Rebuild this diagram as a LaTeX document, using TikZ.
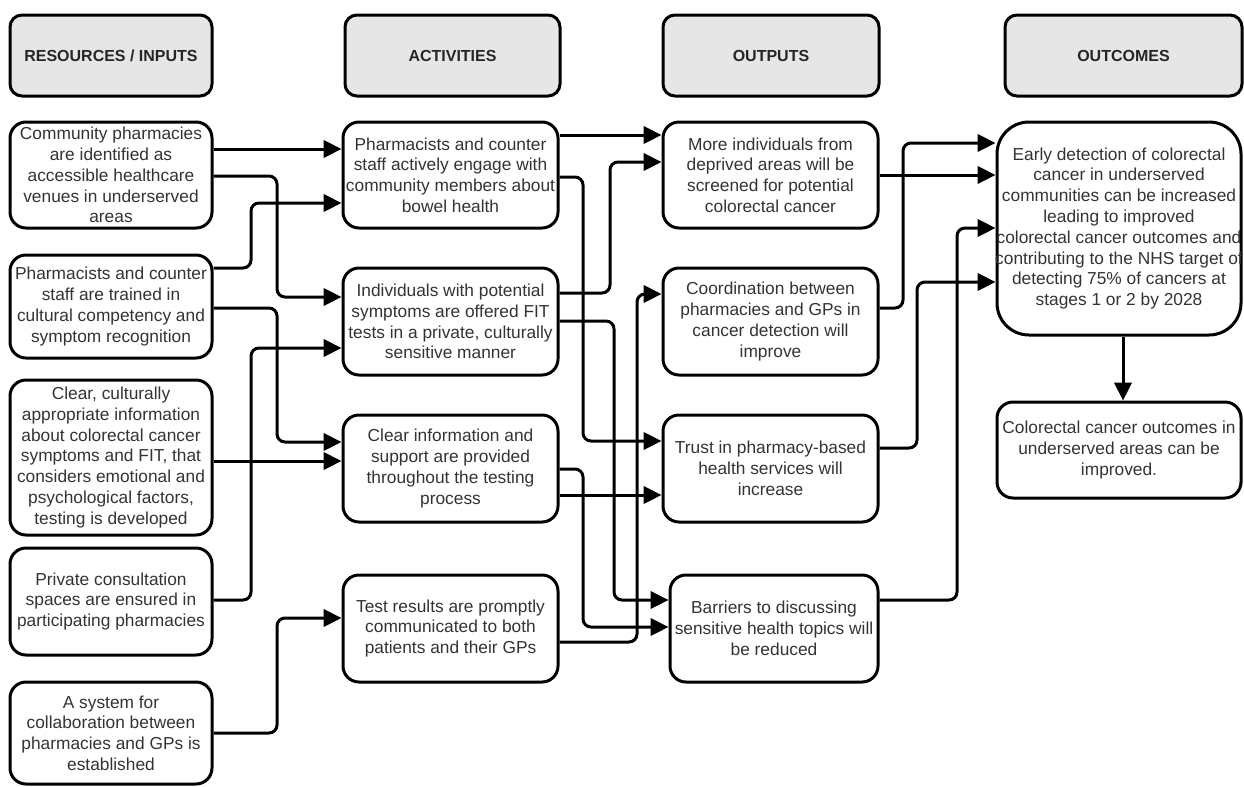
\documentclass[tikz,border=0pt]{standalone}
\usepackage{fontspec}
\setmainfont{Liberation Sans}
\usetikzlibrary{arrows.meta}
\definecolor{txtgray}{HTML}{333333}
\definecolor{headfill}{HTML}{E6E6E6}

\tikzset{
  box/.style={draw, line width=2.25pt, rounded corners=12pt, align=center, inner sep=2pt,
    text=txtgray, font=\fontsize{13pt}{15.6pt}\selectfont},
  head/.style={box, fill=headfill, minimum height=60.75pt, rounded corners=9pt,
    text=black!85, font=\fontsize{12pt}{14pt}\selectfont\bfseries},
  flow/.style={line width=2.25pt, rounded corners=6pt, -{Triangle[length=13.5pt,width=13pt]}},
}

\begin{document}
\begin{tikzpicture}[x=0.75pt,y=-0.75pt]
\useasboundingbox (0,0) rectangle (1244,786);

% column heads
\node[head, minimum width=151.5pt] (h1) at (111,55.5) {RESOURCES / INPUTS};
\node[head, minimum width=161.25pt] (h2) at (452.5,55.5) {ACTIVITIES};
\node[head, minimum width=162pt] (h3) at (771,55.5) {OUTPUTS};
\node[head, minimum width=177.75pt] (h4) at (1123.5,55.5) {OUTCOMES};

% resources / inputs
\node[box, minimum width=151.5pt, minimum height=79.5pt] (in1) at (111,175)
  {Community pharmacies\\are identified as\\accessible healthcare\\venues in underserved\\areas};
\node[box, minimum width=151.5pt, minimum height=77.25pt] (in2) at (111,306.5)
  {Pharmacists and counter\\staff are trained in\\cultural competency and\\symptom recognition};
\node[box, minimum width=151.5pt, minimum height=116.25pt] (in3) at (111,457.5)
  {Clear, culturally\\appropriate information\\about colorectal cancer\\symptoms and FIT, that\\considers emotional and\\psychological factors,\\testing is developed};
\node[box, minimum width=151.5pt, minimum height=80.25pt] (in4) at (111,601.5)
  {Private consultation\\spaces are ensured in\\participating pharmacies};
\node[box, minimum width=151.5pt, minimum height=76.5pt] (in5) at (111,733)
  {A system for\\collaboration between\\pharmacies and GPs is\\established};

% activities
\node[box, minimum width=161.25pt, minimum height=79.5pt] (act1) at (450.5,175)
  {Pharmacists and counter\\staff actively engage with\\community members about\\bowel health};
\node[box, minimum width=161.25pt, minimum height=80.25pt] (act2) at (450.5,321.5)
  {Individuals with potential\\symptoms are offered FIT\\tests in a private, culturally\\sensitive manner};
\node[box, minimum width=161.25pt, minimum height=80.25pt] (act3) at (450.5,468.5)
  {Clear information and\\support are provided\\throughout the testing\\process};
\node[box, minimum width=161.25pt, minimum height=80.25pt] (act4) at (450.5,628.5)
  {Test results are promptly\\communicated to both\\patients and their GPs};

% outputs
\node[box, minimum width=161.25pt, minimum height=79.5pt] (out1) at (770.5,175)
  {More individuals from\\deprived areas will be\\screened for potential\\colorectal cancer};
\node[box, minimum width=161.25pt, minimum height=80.25pt] (out2) at (770.5,321.5)
  {Coordination between\\pharmacies and GPs in\\cancer detection will\\improve};
\node[box, minimum width=161.25pt, minimum height=80.25pt] (out3) at (770.5,468.5)
  {Trust in pharmacy-based\\health services will\\increase};
\node[box, minimum width=156pt, minimum height=80.25pt] (out4) at (774,628.5)
  {Barriers to discussing\\sensitive health topics will\\be reduced};

% outcomes
\node[box, rounded corners=24pt, minimum width=183pt, minimum height=159.75pt] (oc1) at (1119,228.5) {};
\node[align=center, text=txtgray, font=\fontsize{13pt}{15.6pt}\selectfont] (oc1txt) at (oc1)
  {Early detection of colorectal\\cancer in underserved\\communities can be increased\\leading to improved\\colorectal cancer outcomes and\\contributing to the NHS target of\\detecting 75\% of cancers at\\stages 1 or 2 by 2028};
\node[box, minimum width=183pt, minimum height=72pt] (oc2) at (1119,450)
  {Colorectal cancer outcomes in\\underserved areas can be\\improved.};

% inputs -> activities
\draw[flow] (in1.east |- 0,149) -- (act1.west |- 0,149);
\draw[flow] (in1.east |- 0,176) -- (277,176) -- (277,297) -- (act2.west |- 0,297);
\draw[flow] (in2.east |- 0,268) -- (251,268) -- (251,203) -- (act1.west |- 0,203);
\draw[flow] (in2.east |- 0,308) -- (277,308) -- (277,442) -- (act3.west |- 0,442);
\draw[flow] (in3.east |- 0,461) -- (act3.west |- 0,461);
\draw[flow] (in4.east |- 0,600) -- (251,600) -- (251,348) -- (act2.west |- 0,348);
\draw[flow] (in5.east |- 0,733) -- (277,733) -- (277,618) -- (act4.west |- 0,618);

% activities -> outputs
\draw[flow] (act1.east |- 0,135) -- (out1.west |- 0,135);
\draw[flow] (act1.east |- 0,177) -- (583,177) -- (583,441) -- (out3.west |- 0,441);
\draw[flow] (act2.east |- 0,293) -- (610,293) -- (610,162) -- (out1.west |- 0,162);
\draw[flow] (act2.east |- 0,321) -- (614,321) -- (614,600) -- (out4.west |- 0,600);
\draw[flow] (act3.east |- 0,469) -- (583,469) -- (583,627) -- (out4.west |- 0,627);
\draw[flow] (act3.east |- 0,495) -- (out3.west |- 0,495);
\draw[flow] (act4.east |- 0,642) -- (637,642) -- (637,294) -- (out2.west |- 0,294);

% outputs -> outcomes
\draw[flow] (out1.east |- 0,175) -- (oc1.west |- 0,175);
\draw[flow] (out2.east |- 0,308) -- (903,308) -- (903,143) -- (oc1.west |- 0,143);
\draw[flow] (out3.east |- 0,448) -- (917,448) -- (917,282) -- (oc1.west |- 0,282);
\draw[flow] (out4.east |- 0,600) -- (957,600) -- (957,228) -- (oc1.west |- 0,228);
\draw[flow] (oc1.south -| 1123,0) -- (oc2.north -| 1123,0);
\end{tikzpicture}
\end{document}
